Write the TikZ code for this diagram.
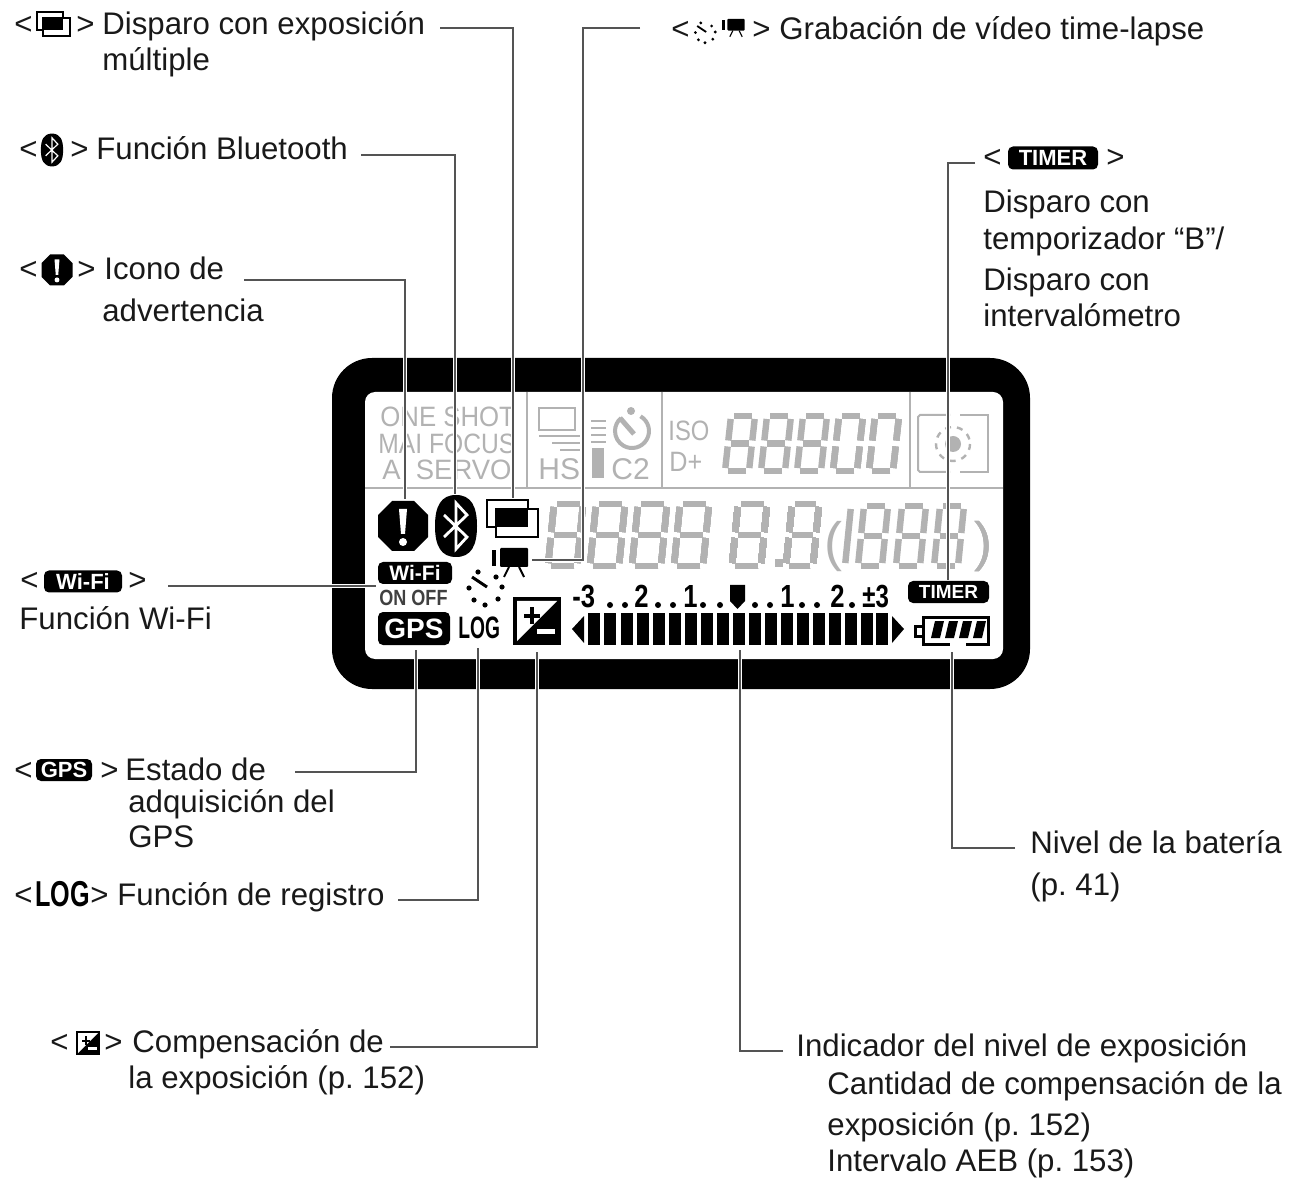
\documentclass[tikz,border=0pt]{standalone}
\usepackage{fontspec}
\setmainfont{Liberation Sans}
\usepackage{tikz}
\usetikzlibrary{positioning, calc}

\definecolor{lcdgrey}{gray}{0.70}
\definecolor{conngrey}{gray}{0.33}

\tikzset{
  lbl/.style={anchor=base west, inner sep=0pt, yshift=-0.4pt, font=\fontsize{15.6}{18}\selectfont, text=black!90},
  lcdtxt/.style={anchor=base west, inner sep=0pt, text=lcdgrey, font=\fontsize{#1}{#1}\selectfont},
  blacktxt/.style={anchor=base west, inner sep=0pt, text=black, font=\fontsize{#1}{#1}\selectfont},
  badge/.style={fill=black, text=white, rounded corners=2.5pt, inner sep=0pt, font=\bfseries\fontsize{#1}{#1}\selectfont},
  conn/.style={draw=conngrey, line width=1pt, preaction={draw=white, line width=2.4pt}},
  lcdline/.style={draw=lcdgrey, line width=0.8pt},
  lcdseg/.style={draw=lcdgrey, line width=3.2pt, shorten >=1.5pt, shorten <=1.5pt},
  % icons
  pics/warnicon/.style={code={
    \fill (-11,-25)--(11,-25)--(25,-11)--(25,11)--(11,25)--(-11,25)--(-25,11)--(-25,-11)--cycle;
    \fill[white] (-4,-17)--(4,-17)--(2,8)--(-2,8)--cycle;
    \fill[white] (0,16) circle (4);
  }},
  pics/bticon/.style={code={
    \fill (0,-31) .. controls (15,-31) and (21,-20) .. (21,0) .. controls (21,20) and (15,31) .. (0,31)
      .. controls (-15,31) and (-21,20) .. (-21,0) .. controls (-21,-20) and (-15,-31) .. (0,-31) -- cycle;
    \draw[white, line width=#1] (-12,-11)--(11,11)--(0,23)--(0,-23)--(11,-11)--(-12,11);
  }},
  pics/multicon/.style={code={
    \draw[line width=#1] (-25,-18) rectangle (16,9);
    \draw[line width=#1, fill=white] (-16,-9) rectangle (26,19);
    \fill (-16,-9) rectangle (16,9);
  }},
  pics/moviecon/.style={code={
    \fill[rounded corners=0.5pt] (-14,-10) rectangle (14,9);
    \fill (-22,-8) rectangle (-18,8);
    \draw[line width=#1] (-5,9)--(-10,19) (5,9)--(10,19);
  }},
  pics/bursticon/.style={code={
    \draw[line width=#1] (-13,-10)--(2,0);
    \foreach \a/\b in {-7/-15,11/-10,17/0,13/12,0/18,-11/13,-16/1}
      \fill (\a,\b) circle (2.6);
  }},
  pics/compicon/.style={code={
    \fill (-24,-24) rectangle (24,24);
    \fill[white] (-20,-20)--(20,-20)--(-20,20)--cycle;
    \fill (-13,-7) rectangle (3,-3);
    \fill (-7,-14) rectangle (-3,3);
    \fill[white] (0,8) rectangle (18,13);
  }}
}

% one seven-segment figure: x, baseline, width, height, slant
\newcommand{\lcddigit}[5]{
  \coordinate (tl) at ({#1+#5},{#2-#4});
  \coordinate (tr) at ({#1+#3+#5},{#2-#4});
  \coordinate (ml) at ({#1+#5/2},{#2-#4/2});
  \coordinate (mr) at ({#1+#3+#5/2},{#2-#4/2});
  \coordinate (bl) at (#1,#2);
  \coordinate (br) at ({#1+#3},#2);
  \foreach \a/\b in {tl/tr,tr/mr,mr/br,br/bl,bl/ml,ml/tl,ml/mr}
    \draw[lcdseg] (\a) -- (\b);
}
% the same figure without its middle bar
\newcommand{\lcdzero}[5]{
  \coordinate (tl) at ({#1+#5},{#2-#4});
  \coordinate (tr) at ({#1+#3+#5},{#2-#4});
  \coordinate (ml) at ({#1+#5/2},{#2-#4/2});
  \coordinate (mr) at ({#1+#3+#5/2},{#2-#4/2});
  \coordinate (bl) at (#1,#2);
  \coordinate (br) at ({#1+#3},#2);
  \foreach \a/\b in {tl/tr,tr/mr,mr/br,br/bl,bl/ml,ml/tl}
    \draw[lcdseg] (\a) -- (\b);
}

\begin{document}
\frenchspacing
\begin{tikzpicture}[x=0.5pt, y=-0.5pt]
  \useasboundingbox (0,0) rectangle (1290,1181);

  % Display
  \fill[rounded corners=20pt] (332,358) rectangle (1030,689);
  \fill[white, rounded corners=5pt] (365,392) rectangle (1003,659);
  \draw[lcdline] (365,488) -- (1003,488);
  \draw[lcdline] (527,392) -- (527,488);
  \draw[lcdline] (662,392) -- (662,488);
  \draw[lcdline] (910,392) -- (910,488);

  % Grey segments of the display
  \node (oneShot) [lcdtxt=14] at (380,427) {\scalebox{.92}[1]{ONE SHOT}};
  \node (maiFocus) [lcdtxt=14] at (378,454) {\scalebox{.88}[1]{MAI FOCUS}};
  \node (aiServo) [lcdtxt=14] at (382,480) {\scalebox{.98}[1]{AI SERVO}};
  \node (hs) [lcdtxt=15] at (538,480) {HS};
  \node (ctwo) [lcdtxt=15] at (611,480) {C2};
  \node (iso) [lcdtxt=14] at (668,441) {\scalebox{.85}[1]{ISO}};
  \node (dplus) [lcdtxt=14] at (669,472) {\scalebox{.9}[1]{D+}};
  \draw[lcdline, line width=1pt] (539,408) rectangle (575,430);
  \draw[lcdline, line width=1pt] (539,436) -- (580,436) (552,443) -- (580,443) (560,450) -- (580,450);
  \foreach \y in {421,428,435,442}
    \draw[lcdline, line width=1pt] (591,\y) -- (606,\y);
  \fill[lcdgrey] (592,448) rectangle (604,478);
  \draw[lcdline, line width=2pt] (640.5,416.3) arc[start angle=-60, end angle=230, radius=17];
  \draw[lcdline, line width=2.5pt] (620,418) -- (634,434);
  \fill[lcdgrey] (631,411) circle (4);
  \foreach \x in {725,761,797}
    \lcddigit{\x}{471}{24}{55}{6}
  \foreach \x in {833,869}
    \lcdzero{\x}{471}{24}{55}{6}
  \foreach \x in {548,590,632,674}
    \lcddigit{\x}{566}{29}{62}{6}
  \lcddigit{732}{566}{29}{62}{6}
  \lcddigit{786}{566}{27}{62}{6}
  \fill[lcdgrey] (775,559) rectangle (783,567);
  \node (parenL) [lcdtxt=27] at (824,560) {(};
  \draw[lcdseg] (845,566) -- (851,506);
  \foreach \x in {858,896,934}
    \lcddigit{\x}{566}{24}{60}{6}
  \node (parenR) [lcdtxt=27] at (974,560) {)};
  \draw[lcdline, line width=1pt] (950,415) -- (920,415) -- (918,417) -- (918,470) -- (920,472) -- (950,472);
  \draw[lcdline, line width=1pt] (960,415) -- (988,415) -- (988,472) -- (960,472);
  \fill[lcdgrey] (953,444) circle (8);
  \draw[lcdline, line width=1.2pt, dashed] (953,444) circle (17);

  % Black symbols of the display
  \pic at (403,526) {warnicon};
  \pic at (456,526) {bticon=1.4pt};
  \pic at (512,518) {multicon=1.4pt};
  \pic at (514,558) {moviecon=1pt};
  \pic at (485,587) {bursticon=1.5pt};
  \pic at (537,621) {compicon};
  \node (wifiLcd) [badge=10.5, minimum width=37pt, minimum height=11pt] at (415,573) {Wi-Fi};
  \node (onOff) [blacktxt=11, text=black!75] at (379,605) {\scalebox{.82}[1]{\bfseries ON OFF}};
  \node (gpsLcd) [badge=14, minimum width=36pt, minimum height=16.5pt] at (414,628.5) {GPS};
  \node (logLcd) [blacktxt=15.5] at (458,639) {\scalebox{.62}[1]{\bfseries LOG}};
  \node (timerLcd) [badge=9.5, minimum width=40.5pt, minimum height=11pt] at (948.5,592) {TIMER};

  % Exposure scale
  \node (mThree) [blacktxt=16] at (572,608) {\scalebox{.8}[1]{\bfseries -3}};
  \node (mTwo) [blacktxt=16] at (634,608) {\scalebox{.8}[1]{\bfseries 2}};
  \node (mOne) [blacktxt=16] at (683,608) {\scalebox{.8}[1]{\bfseries 1}};
  \node (pOne) [blacktxt=16] at (780,608) {\scalebox{.8}[1]{\bfseries 1}};
  \node (pTwo) [blacktxt=16] at (830,608) {\scalebox{.8}[1]{\bfseries 2}};
  \node (pThree) [blacktxt=16] at (862,608) {\scalebox{.75}[1]{\bfseries ±3}};
  \foreach \x in {610,625,658,673,703,720,755,770,802,817,852}
    \fill (\x,605) circle (3);
  \fill (730,585) -- (745,585) -- (745,601) -- (737.5,609) -- (730,601) -- cycle;
  \fill (572,629) -- (584,616) -- (584,643) -- cycle;
  \fill (892,616) -- (904,629) -- (892,643) -- cycle;
  \foreach \x in {588,604,621,637,653,669,685,701,717,733,749,765,781,797,813,829,845,861,876}
    \fill (\x,613) rectangle ++(12,32);

  % Battery
  \draw[line width=1.5pt] (923,617) rectangle (988,644);
  \draw[line width=1.5pt, fill=white] (915,626) rectangle (923,636);
  \foreach \x in {931,945,959,973}
    \fill (\x,638) -- ++(4,-17) -- ++(9,0) -- ++(-4,17) -- cycle;
  \fill[white] (950,642) rectangle (966,647);

  % Labels
  \node (ltA) [lbl] at (14,34) {<};
  \pic at (53,24) [scale=.65] {multicon=1pt};
  \node (gtA) [lbl] at (76,34) {>};
  \node (multiExp) [lbl] at (102,34) {Disparo con exposición};
  \node (multiExpB) [lbl] at (102,70) {múltiple};

  \node (ltB) [lbl] at (19,159) {<};
  \pic at (52,150) [scale=.53] {bticon=.6pt};
  \node (gtB) [lbl] at (70,159) {>};
  \node (bluetooth) [lbl] at (96,159) {Función Bluetooth};

  \node (ltC) [lbl] at (19,279) {<};
  \pic at (57,270) [scale=.62] {warnicon};
  \node (gtC) [lbl] at (77,279) {>};
  \node (warning) [lbl] at (104,279) {Icono de};
  \node (warningB) [lbl] at (102,321) {advertencia};

  \node (ltD) [lbl] at (671,39) {<};
  \pic at (705,32) [scale=.6] {bursticon=.9pt};
  \pic at (736,25) [scale=.62] {moviecon=.6pt};
  \node (gtD) [lbl] at (752,39) {>};
  \node (timeLapse) [lbl] at (779,39) {Grabación de vídeo time-lapse};

  \node (ltE) [lbl] at (983,167) {<};
  \node (timerTag) [badge=11, minimum width=45pt, minimum height=11.5pt] at (1053,158) {TIMER};
  \node (gtE) [lbl] at (1106,167) {>};
  \node (timerA) [lbl] at (983,212) {Disparo con};
  \node (timerB) [lbl] at (983,249) {temporizador “B”/};
  \node (timerC) [lbl] at (983,290) {Disparo con};
  \node (timerD) [lbl] at (983,326) {intervalómetro};

  \node (ltF) [lbl] at (20,590) {<};
  \node (wifiTag) [badge=11, minimum width=39pt, minimum height=11pt] at (83,581.5) {Wi-Fi};
  \node (gtF) [lbl] at (128,590) {>};
  \node (wifi) [lbl] at (19,629) {Función Wi-Fi};

  \node (ltG) [lbl] at (14,780) {<};
  \node (gpsTag) [badge=11, minimum width=28pt, minimum height=11pt] at (64,770) {GPS};
  \node (gtG) [lbl] at (100,780) {>};
  \node (gps) [lbl] at (125,780) {Estado de};
  \node (gpsB) [lbl] at (128,812) {adquisición del};
  \node (gpsC) [lbl] at (128,847) {GPS};

  \node (ltH) [lbl] at (14,905) {<};
  \node (logTag) [blacktxt=18] at (35,906) {\scalebox{.7}[1]{\bfseries LOG}};
  \node (gtH) [lbl] at (90,905) {>};
  \node (logging) [lbl] at (117,905) {Función de registro};

  \node (ltI) [lbl] at (50,1052) {<};
  \pic at (88,1043) [scale=.5] {compicon};
  \node (gtI) [lbl] at (104,1052) {>};
  \node (comp) [lbl] at (132,1052) {Compensación de};
  \node (compB) [lbl] at (128,1088) {la exposición (p. 152)};

  \node (battery) [lbl] at (1030,853) {Nivel de la batería};
  \node (batteryB) [lbl] at (1030,895) {(p. 41)};

  \node (level) [lbl] at (796,1056) {Indicador del nivel de exposición};
  \node (levelB) [lbl] at (827,1094) {Cantidad de compensación de la};
  \node (levelC) [lbl] at (827,1135) {exposición (p. 152)};
  \node (levelD) [lbl] at (827,1171) {Intervalo AEB (p. 153)};

  % Ends of the leader lines
  \coordinate (multiStart) at (440,28);
  \coordinate (multiEnd) at (513,498);
  \coordinate (btStart) at (361,155);
  \coordinate (btEnd) at (455,494);
  \coordinate (warnStart) at (244,280);
  \coordinate (warnEnd) at (405,499);
  \coordinate (movieStart) at (640,28);
  \coordinate (movieBend) at (583,560);
  \coordinate (movieEnd) at (532,560);
  \coordinate (timerStart) at (975,163);
  \coordinate (timerEnd) at (948,580);
  \coordinate (wifiStart) at (168,586);
  \coordinate (wifiEnd) at (376,586);
  \coordinate (gpsStart) at (295,772);
  \coordinate (gpsEnd) at (416,650);
  \coordinate (logStart) at (398,900);
  \coordinate (logEnd) at (478,648);
  \coordinate (compStart) at (390,1047);
  \coordinate (compEnd) at (537,652);
  \coordinate (levelStart) at (783,1051);
  \coordinate (levelEnd) at (740,650);
  \coordinate (batteryStart) at (1015,848);
  \coordinate (batteryEnd) at (952,652);

  % Arrows
  \draw[conn] (multiStart) -| (multiEnd);
  \draw[conn] (btStart) -| (btEnd);
  \draw[conn] (warnStart) -| (warnEnd);
  \draw[conn] (movieStart) -| (movieBend) -- (movieEnd);
  \draw[conn] (timerStart) -| (timerEnd);
  \draw[conn] (wifiStart) -- (wifiEnd);
  \draw[conn] (gpsStart) -| (gpsEnd);
  \draw[conn] (logStart) -| (logEnd);
  \draw[conn] (compStart) -| (compEnd);
  \draw[conn] (levelStart) -| (levelEnd);
  \draw[conn] (batteryStart) -| (batteryEnd);
\end{tikzpicture}
\end{document}
